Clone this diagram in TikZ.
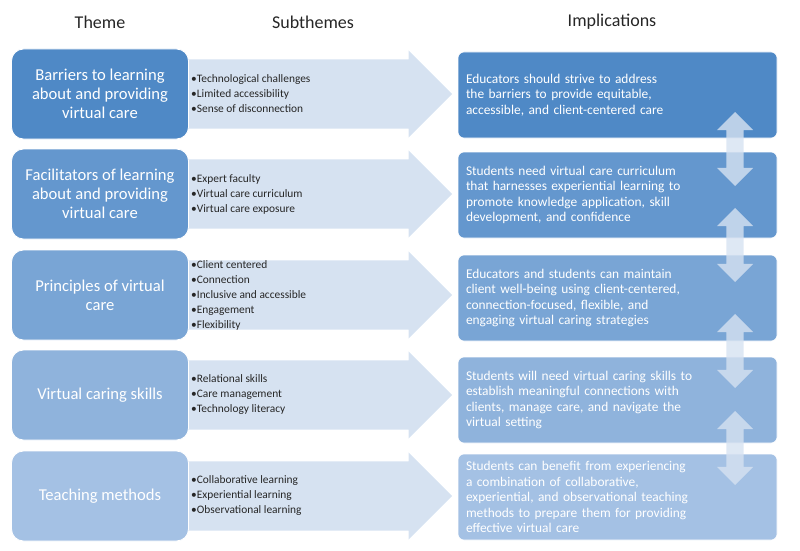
\documentclass[tikz,border=0pt]{standalone}
\usepackage{fontspec}
\setmainfont{Carlito}
\usetikzlibrary{shapes.arrows, positioning}

\definecolor{rowA}{RGB}{79,137,198}
\definecolor{rowB}{RGB}{100,151,206}
\definecolor{rowC}{RGB}{121,165,213}
\definecolor{rowD}{RGB}{143,179,220}
\definecolor{rowE}{RGB}{164,193,228}
\definecolor{paleblue}{RGB}{214,226,241}

\begin{document}
\begin{tikzpicture}[
    x=1pt, y=-1pt,
    header/.style={font=\fontsize{18}{21}\selectfont, text=black!85},
    theme/.style={draw=white, line width=0.8pt, rounded corners=12pt, minimum width=177pt, minimum height=90pt, inner sep=0pt, align=center, text=white, font=\fontsize{16.6}{19}\selectfont},
    implication/.style={draw=white, line width=0.6pt, rounded corners=6pt, minimum width=319pt, minimum height=86pt, text width=303pt, inner xsep=8pt, align=left, text=white, font=\fontsize{13.4}{15.5}\selectfont},
    flow/.style={single arrow, fill=paleblue, minimum height=267pt, inner xsep=0pt, inner ysep=34.5pt, single arrow head extend=9pt, single arrow head indent=0pt, anchor=tail},
    bullets/.style={anchor=west, align=left, inner sep=0pt, text=black!85, font=\fontsize{11.4}{15}\selectfont},
    link/.style={double arrow, rotate=90, fill=paleblue, fill opacity=0.8, minimum height=74pt, inner xsep=0pt, inner ysep=8.5pt, double arrow head extend=9.5pt}
  ]
  \useasboundingbox (0,0) rectangle (800,551);

  % column titles
  \node[header] (themehead) at (100,22) {Theme};
  \node[header] (subhead) at (313,22) {Subthemes};
  \node[header] (imphead) at (612,22) {Implications};

  % arrows behind the theme boxes
  \node[flow] (barriersflow) at (185,94) {};
  \node[flow] (facilflow) at (185,194) {};
  \node[flow] (principlesflow) at (185,295) {};
  \node[flow] (skillsflow) at (185,395) {};
  \node[flow] (teachingflow) at (185,496) {};

  % themes
  \node[theme, fill=rowA] (barriers) at (100,94) {Barriers to learning\\about and providing\\virtual care};
  \node[theme, fill=rowB] (facil) at (100,194) {Facilitators of learning\\about and providing\\virtual care};
  \node[theme, fill=rowC] (principles) at (100,295) {Principles of virtual\\care};
  \node[theme, fill=rowD] (skills) at (100,395) {Virtual caring skills};
  \node[theme, fill=rowE] (teaching) at (100,496) {Teaching methods};

  % subthemes
  \node[bullets] (barrierslist) at (191,94) {•Technological challenges\\•Limited accessibility\\•Sense of disconnection};
  \node[bullets] (faciliist) at (191,194) {•Expert faculty\\•Virtual care curriculum\\•Virtual care exposure};
  \node[bullets] (principleslist) at (191,295) {•Client centered\\•Connection\\•Inclusive and accessible\\•Engagement\\•Flexibility};
  \node[bullets] (skillslist) at (191,395) {•Relational skills\\•Care management\\•Technology literacy};
  \node[bullets] (teachinglist) at (191,496) {•Collaborative learning\\•Experiential learning\\•Observational learning};

  % implications
  \node[implication, fill=rowA] (barriersimp) at (617.5,95) {Educators should strive to address\\the barriers to provide equitable,\\accessible, and client-centered care};
  \node[implication, fill=rowB] (facilimp) at (617.5,195) {Students need virtual care curriculum\\that harnesses experiential learning to\\promote knowledge application, skill\\development, and confidence};
  \node[implication, fill=rowC] (principlesimp) at (617.5,298) {Educators and students can maintain\\client well-being using client-centered,\\connection-focused, flexible, and\\engaging virtual caring strategies};
  \node[implication, fill=rowD] (skillsimp) at (617.5,400) {Students will need virtual caring skills to\\establish meaningful connections with\\clients, manage care, and navigate the\\virtual setting};
  \node[implication, fill=rowE] (teachingimp) at (617.5,497) {Students can benefit from experiencing\\a combination of collaborative,\\experiential, and observational teaching\\methods to prepare them for providing\\effective virtual care};

  % links between implications
  \node[link] (linkA) at (735,149) {};
  \node[link] (linkB) at (735,245) {};
  \node[link] (linkC) at (735,351) {};
  \node[link] (linkD) at (735,448) {};
\end{tikzpicture}
\end{document}
